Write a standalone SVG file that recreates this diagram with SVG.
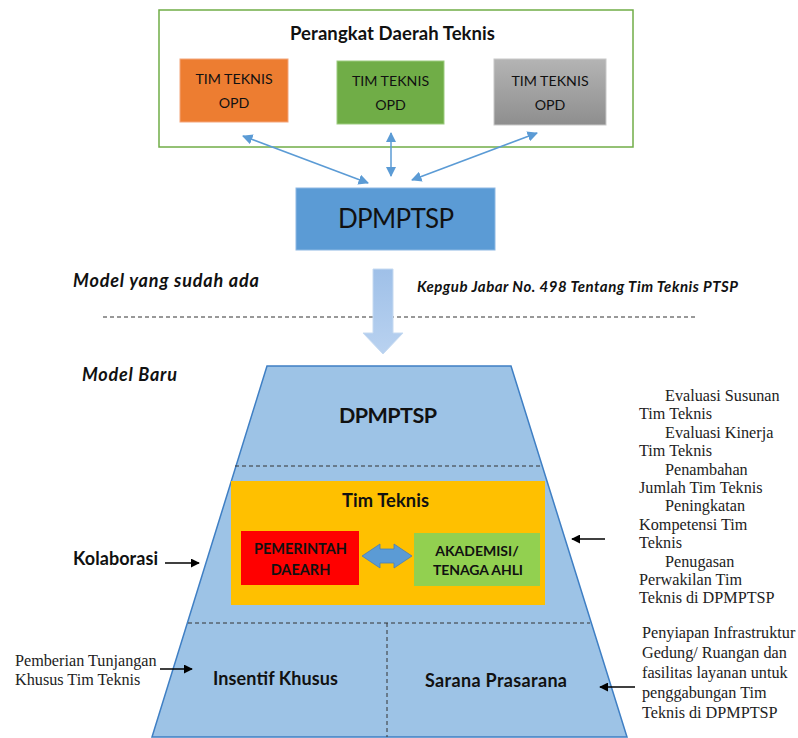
<svg xmlns="http://www.w3.org/2000/svg" width="798" height="738" viewBox="0 0 798 738">
<style>
.sans{font-family:Lato,"Liberation Sans",sans-serif;fill:#111}
.b{font-weight:bold}
.it{font-style:italic;font-weight:bold}
.serif{font-family:"Liberation Serif","Times New Roman",serif;fill:#222;font-size:16.2px}
.blue{stroke:#5b9bd5;stroke-width:1.5;fill:none}
.blk{stroke:#000;stroke-width:1.5;fill:none}
.dash{stroke:#333;stroke-width:1;stroke-dasharray:4 3;fill:none}
</style>
<defs>
<marker id="ab" viewBox="0 0 10 10" refX="9" refY="5" markerWidth="7" markerHeight="7" orient="auto-start-reverse"><path d="M0,0 L10,5 L0,10 z" fill="#5b9bd5"/></marker>
<marker id="ak" viewBox="0 0 10 10" refX="9" refY="5" markerWidth="6" markerHeight="6" orient="auto"><path d="M0,0 L10,5 L0,10 z" fill="#000"/></marker>
<linearGradient id="gg" x1="0" y1="0" x2="0" y2="1"><stop offset="0" stop-color="#b4b4b4"/><stop offset="1" stop-color="#8e8e8e"/></linearGradient>
<linearGradient id="dg" x1="0" y1="0" x2="0" y2="1"><stop offset="0" stop-color="#9fc0e8"/><stop offset="1" stop-color="#b9d2f0"/></linearGradient>
</defs>

<g id="perangkat-daerah">
<rect x="159" y="10" width="474" height="137" fill="#fff" stroke="#70ad47" stroke-width="1.5"/>
<text class="sans b" x="392.5" y="40" font-size="18.5" text-anchor="middle" textLength="205">Perangkat Daerah Teknis</text>
</g>
<g id="opd-orange">
<rect x="180" y="59" width="108" height="63" fill="#ed7d31" stroke="#f4a57a" stroke-width="1"/>
<text class="sans" x="234" y="84" font-size="14.2" text-anchor="middle">TIM TEKNIS</text>
<text class="sans" x="234" y="108" font-size="14.2" text-anchor="middle">OPD</text>
</g>
<g id="opd-green">
<rect x="337" y="61" width="107" height="63" fill="#70ad47" stroke="#9ccc7e" stroke-width="1"/>
<text class="sans" x="390.5" y="86" font-size="14.2" text-anchor="middle">TIM TEKNIS</text>
<text class="sans" x="390.5" y="110" font-size="14.2" text-anchor="middle">OPD</text>
</g>
<g id="opd-gray">
<rect x="494" y="59" width="112" height="66" fill="url(#gg)" stroke="#c8c8c8" stroke-width="1"/>
<text class="sans" x="550" y="86" font-size="14.2" text-anchor="middle">TIM TEKNIS</text>
<text class="sans" x="550" y="110" font-size="14.2" text-anchor="middle">OPD</text>
</g>
<g id="dpmptsp-lama">
<rect x="296" y="188" width="199" height="62" fill="#5b9bd5" stroke="#8db8e3" stroke-width="1"/>
<text class="sans" x="396" y="228" font-size="26" text-anchor="middle" textLength="116">DPMPTSP</text>
</g>

<g id="labels">
<text class="sans it" x="73" y="287" font-size="18" textLength="186">Model yang sudah ada</text>
<text class="sans it" x="417" y="292" font-size="15" textLength="321">Kepgub Jabar No. 498 Tentang Tim Teknis PTSP</text>
<text class="sans it" x="82" y="381" font-size="18" textLength="95">Model Baru</text>
</g>

<g id="model-baru">
<polygon points="267,366 511,366 627,737 152,737" fill="#9dc3e6" stroke="#3f7fc4" stroke-width="1.5"/>
<text class="sans b" x="388" y="423" font-size="21.5" text-anchor="middle" textLength="98">DPMPTSP</text>
<line class="dash" x1="235" y1="466" x2="542" y2="466"/>
<line class="dash" x1="188" y1="623" x2="590" y2="623"/>
<line class="dash" x1="387" y1="623" x2="387" y2="737"/>
<text class="sans b" x="275.5" y="685" font-size="18" text-anchor="middle" textLength="125">Insentif Khusus</text>
<text class="sans b" x="496" y="687" font-size="18" text-anchor="middle" textLength="142">Sarana Prasarana</text>
</g>
<g id="tim-teknis">
<rect x="231" y="481" width="314" height="124" fill="#ffc000"/>
<text class="sans b" x="385.5" y="507" font-size="18.3" text-anchor="middle" textLength="87">Tim Teknis</text>
</g>
<g id="pemerintah">
<rect x="241" y="531" width="118" height="54" fill="#ff0000"/>
<text class="sans b" x="300.5" y="554" font-size="14.5" text-anchor="middle">PEMERINTAH</text>
<text class="sans b" x="300.5" y="575" font-size="14.5" text-anchor="middle">DAEARH</text>
</g>
<g id="akademisi">
<rect x="414" y="533" width="126" height="53" fill="#92d050"/>
<text class="sans b" x="477" y="556" font-size="14" text-anchor="middle">AKADEMISI/</text>
<text class="sans b" x="478" y="575" font-size="14" text-anchor="middle" textLength="90">TENAGA AHLI</text>
</g>

<g id="notes">
<text class="sans b" x="73" y="565" font-size="18" textLength="85">Kolaborasi</text>
<text class="serif" x="15" y="666">Pemberian Tunjangan</text>
<text class="serif" x="15" y="685">Khusus Tim Teknis</text>
<text class="serif">
<tspan x="665" y="401">Evaluasi Susunan</tspan>
<tspan x="639" y="419.4">Tim Teknis</tspan>
<tspan x="665" y="437.8">Evaluasi Kinerja</tspan>
<tspan x="639" y="456.2">Tim Teknis</tspan>
<tspan x="665" y="474.6">Penambahan</tspan>
<tspan x="639" y="493">Jumlah Tim Teknis</tspan>
<tspan x="665" y="511.4">Peningkatan</tspan>
<tspan x="639" y="529.8">Kompetensi Tim</tspan>
<tspan x="639" y="548.2">Teknis</tspan>
<tspan x="665" y="566.6">Penugasan</tspan>
<tspan x="639" y="585">Perwakilan Tim</tspan>
<tspan x="639" y="603.4">Teknis di DPMPTSP</tspan>
</text>
<text class="serif">
<tspan x="642" y="638">Penyiapan Infrastruktur</tspan>
<tspan x="642" y="658">Gedung/ Ruangan dan</tspan>
<tspan x="642" y="677.5">fasilitas layanan untuk</tspan>
<tspan x="642" y="697.5">penggabungan Tim</tspan>
<tspan x="642" y="717.5">Teknis di DPMPTSP</tspan>
</text>
</g>

<g id="connectors">
<line class="blue" x1="243" y1="136" x2="368" y2="183" marker-start="url(#ab)" marker-end="url(#ab)"/>
<line class="blue" x1="391" y1="133" x2="391" y2="176" marker-start="url(#ab)" marker-end="url(#ab)"/>
<line class="blue" x1="537" y1="133" x2="412" y2="180" marker-start="url(#ab)" marker-end="url(#ab)"/>
<line class="dash" x1="103" y1="317" x2="697" y2="317"/>
<polygon points="373,269 393,269 393,333 403,333 383,354 363,333 373,333" fill="url(#dg)" stroke="#c6daf1" stroke-width="1"/>
<polygon points="362,556 380,544 380,549 394,549 394,544 412,556 394,568 394,563 380,563 380,568" fill="#5b9bd5" stroke="#4a7fb5" stroke-width="0.8"/>
<line class="blk" x1="165" y1="563" x2="199" y2="563" marker-end="url(#ak)"/>
<line class="blk" x1="160" y1="669" x2="192" y2="669" marker-end="url(#ak)"/>
<line class="blk" x1="605" y1="539" x2="572" y2="539" marker-end="url(#ak)"/>
<line class="blk" x1="635" y1="687" x2="600" y2="687" marker-end="url(#ak)"/>
</g>
</svg>
